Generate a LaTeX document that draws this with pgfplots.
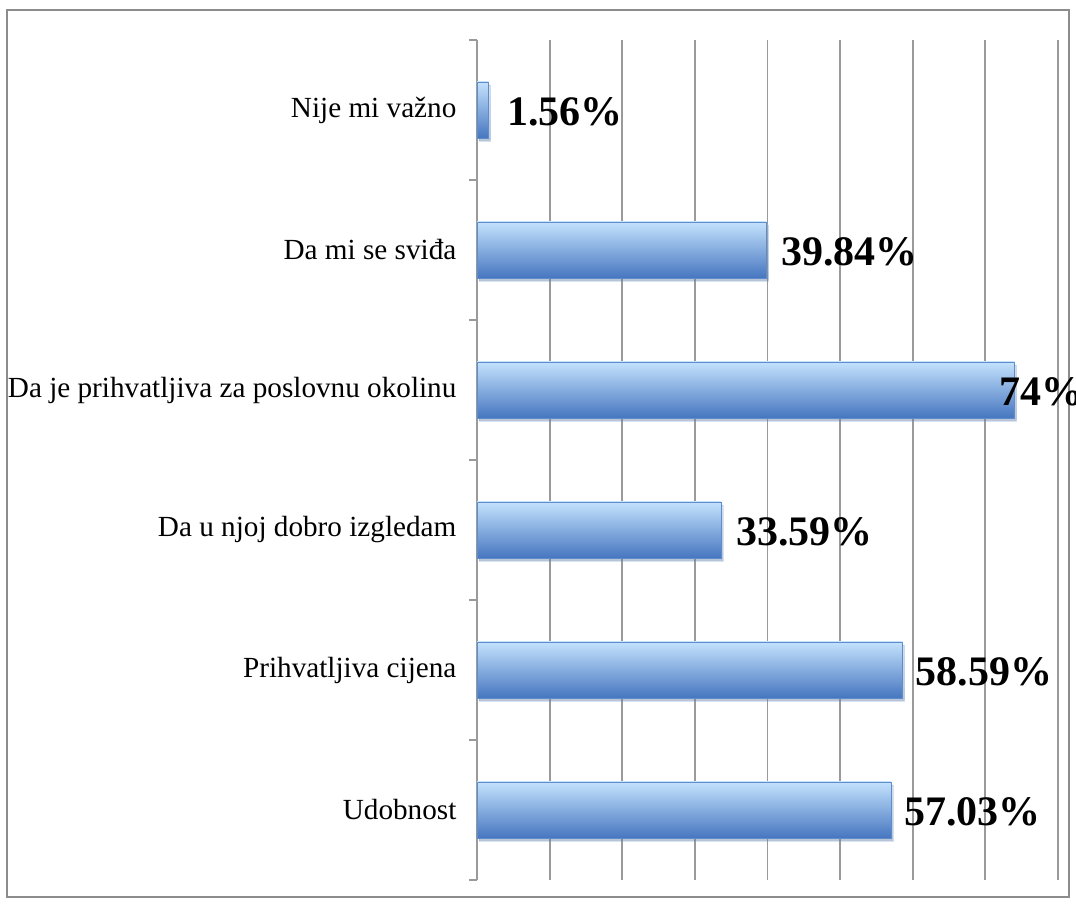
\documentclass[border=0pt]{standalone}
\usepackage{fontspec}
\setmainfont{Liberation Serif}
\usepackage{pgfplots}
\pgfplotsset{compat=1.18}
\usetikzlibrary{shadows}
\definecolor{gridgray}{HTML}{9A9A9A}
\definecolor{framegray}{HTML}{8C8C8C}
\definecolor{bartop}{HTML}{C4E2FD}
\definecolor{barmid}{HTML}{8CB8F0}
\definecolor{barbot}{HTML}{4676C0}
\definecolor{baredge}{HTML}{5F8DCC}
\pgfplotsset{
  mybar/.style={xbar, bar shift=0pt, draw=baredge, line width=0.4pt,
    top color=bartop, middle color=barmid, bottom color=barbot,
    drop shadow={opacity=0.25, shadow xshift=1pt, shadow yshift=-1.5pt}},
}
\begin{document}
\begin{tikzpicture}
\useasboundingbox (-238.5pt,-12pt) rectangle (299.5pt,440pt);
\draw[framegray, line width=1pt] (-235pt,-8.5pt) rectangle (296pt,435pt);
\begin{axis}[
  at={(0,0)}, anchor=south west,
  scale only axis,
  width=290.5pt, height=420pt,
  xmin=0, xmax=80,
  ymin=-0.5, ymax=5.5,
  bar width=28pt,
  axis x line*=bottom,
  axis y line*=left,
  x axis line style={draw=none},
  y axis line style={gridgray, line width=0.8pt},
  xtick={0,10,...,80},
  xticklabels={},
  major x tick style={draw=none},
  xmajorgrids,
  grid style={gridgray, line width=0.9pt},
  ytick={0,1,2,3,4,5},
  yticklabels={Udobnost, Prihvatljiva cijena, Da u njoj dobro izgledam, Da je prihvatljiva za poslovnu okolinu, Da mi se sviđa, Nije mi važno},
  major y tick style={draw=none},
  minor ytick={-0.5,0.5,1.5,2.5,3.5,4.5,5.5},
  minor y tick style={gridgray, line width=0.8pt},
  minor tick length=4pt,
  tick align=outside,
  yticklabel style={font=\fontsize{14.6}{16}\selectfont, anchor=east, xshift=-2.5pt},
  clip=false,
  nodes near coords,
  point meta=explicit symbolic,
  every node near coord/.append style={font=\fontsize{21}{24}\selectfont\bfseries, anchor=west, yshift=-1pt, text=black},
]
\addplot[mybar, every node near coord/.append style={xshift=3pt}] coordinates {(57.03,0) [57.03\%]};
\addplot[mybar, every node near coord/.append style={xshift=3pt}] coordinates {(58.59,1) [58.59\%]};
\addplot[mybar, every node near coord/.append style={xshift=4pt}] coordinates {(33.59,2) [33.59\%]};
\addplot[mybar, every node near coord/.append style={xshift=-11pt}] coordinates {(74,3) [74\%]};
\addplot[mybar, every node near coord/.append style={xshift=4pt}] coordinates {(39.84,4) [39.84\%]};
\addplot[mybar, every node near coord/.append style={xshift=6pt}] coordinates {(1.56,5) [1.56\%]};
\end{axis}
\end{tikzpicture}
\end{document}
